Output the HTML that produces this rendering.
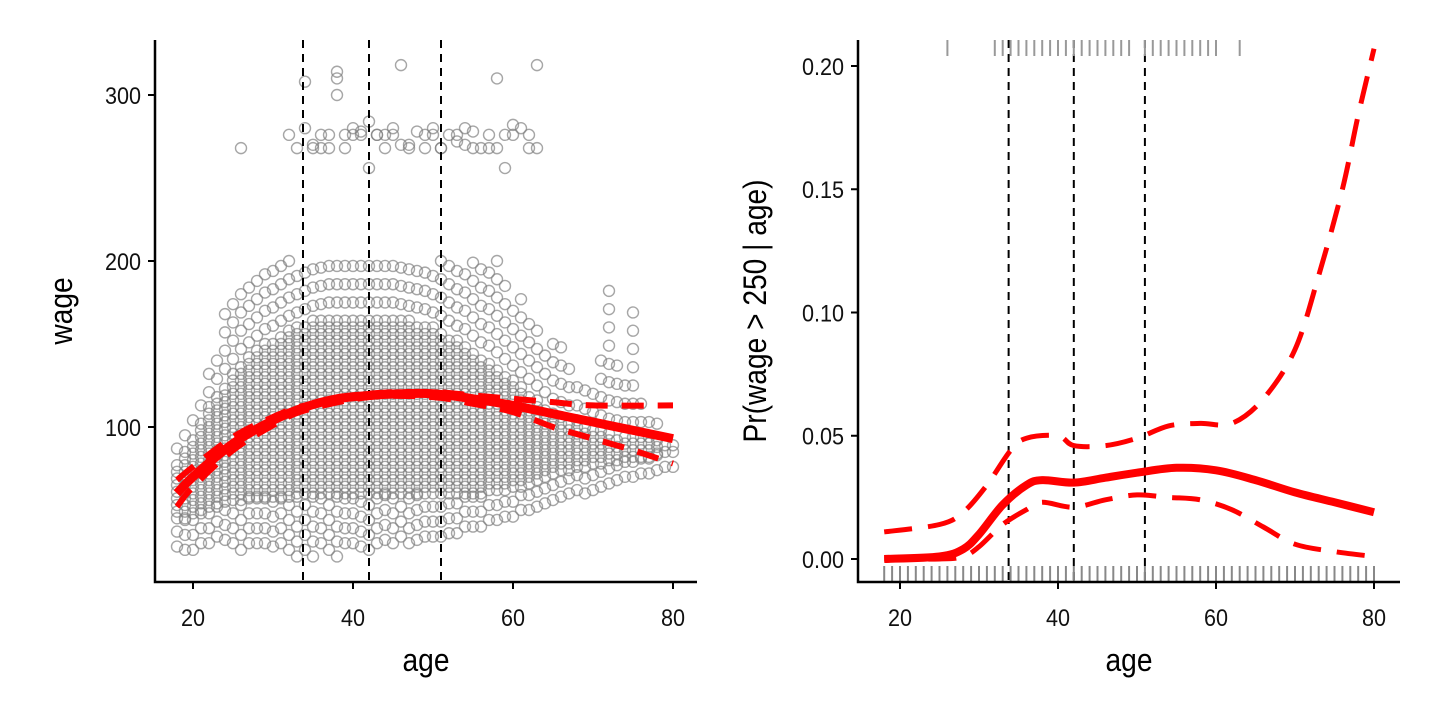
<!DOCTYPE html>
<html><head><meta charset="utf-8"><style>
html,body{margin:0;padding:0;background:#fff;}
svg{display:block;font-family:"Liberation Sans Narrow","Liberation Sans",sans-serif;}
</style></head><body>
<svg id="c" width="1440" height="720"></svg>
<script>
// ---- data ----
const ages = [];for(let a=18;a<=80;a++)ages.push(a);
// dense band per age (wage lo/hi), 18..80
const bandLo=[45,45,48,50,52,54,55,56,56,58,58,58,58,58,58,60,60,60,60,60,60,60,60,60,60,60,60,60,60,60,60,60,60,60,60,60,60,60,60,62,62,62,64,64,66,68,70,72,74,74,76,76,78,78,80,80,82,82,82,82,84,85,85];
const bandHi=[78,86,95,104,112,120,126,132,138,142,146,150,152,155,158,160,162,164,165,166,166,166,166,166,166,166,166,166,165,164,163,162,160,158,155,152,150,146,142,140,136,132,128,124,120,116,112,108,106,104,104,102,100,98,96,95,94,94,94,94,93,92,92];
// sparse outer band per age
const outLo=[28,26,26,30,30,34,32,30,26,30,30,30,28,30,26,22,26,22,30,26,22,30,30,28,26,30,32,30,34,30,32,34,34,34,36,36,40,40,40,44,44,46,46,50,50,52,54,56,58,60,62,60,62,64,66,68,70,70,72,72,74,76,76];
const outHi=[90,100,110,120,140,150,170,175,180,185,195,200,200,200,200,200,200,200,200,200,200,200,200,200,200,200,200,200,200,200,200,200,200,200,200,200,200,200,200,200,200,190,175,180,170,160,150,150,150,140,130,130,130,150,190,140,130,178,120,110,110,100,100];
const highAge=[32,33,34,35,36,37,38,38,39,40,41,42,43,44,45,46,47,48,49,50,51,52,53,54,55,56,57,58,59,60,61,62,63,34,38,43,46,26,58,63,51,42,35,37,39,41,44,47,49,53,55,57,60,36,40,45,50,54,59,62];
const highWage=[276,268,280,270,268,276,310,314,276,280,278,284,276,268,280,318,270,278,276,280,268,276,272,270,278,268,276,268,256,282,280,268,318,308,300,276,270,268,310,268,268,256,268,268,268,276,276,268,268,276,268,268,276,276,276,276,276,280,276,276];
const fitL=[[18,60],[20,70],[25,90],[30,104],[34,112],[38,117],[42,119],[46,120],[50,120],[55,117],[60,113],[65,108],[70,103],[75,98],[80,93]];
const upL=[[18,68],[20,76],[25,94],[30,106],[34,113],[42,120],[50,121],[55,119],[60,117],[65,115],[70,113],[80,113]];
const loL=[[18,52],[20,64],[25,86],[30,101],[34,110],[42,118],[50,118],[55,114],[60,109],[65,100],[70,93],[75,86],[80,78]];
const fitR=[[18,0],[25,0.001],[28,0.004],[30,0.010],[33,0.022],[36,0.030],[38,0.032],[42,0.031],[46,0.033],[50,0.035],[55,0.037],[60,0.036],[65,0.032],[70,0.027],[75,0.023],[80,0.019]];
const upR=[[18,0.011],[25,0.014],[28,0.019],[31,0.030],[34,0.044],[36,0.049],[40,0.050],[42,0.046],[46,0.046],[50,0.049],[54,0.054],[58,0.055],[62,0.055],[66,0.065],[70,0.085],[73,0.115],[76,0.150],[78,0.180],[80,0.207]];
const loR=[[18,0],[25,0],[28,0.001],[30,0.005],[33,0.014],[36,0.020],[38,0.023],[42,0.021],[46,0.024],[50,0.026],[54,0.025],[58,0.024],[62,0.020],[66,0.013],[70,0.006],[75,0.003],[80,0.001]];
const knots=[33.75,42,51];
const xTicks=[20,40,60,80];
const yTicksL=[100,200,300];
const yTicksR=[0,0.05,0.10,0.15,0.20];
const yTickLabR=["0.00","0.05","0.10","0.15","0.20"];
const topRug=[26,32,33,34,35,36,37,38,39,40,41,42,43,44,45,46,47,48,49,51,52,53,54,55,56,57,58,59,60,63];
// ---- scales ----
const xL=a=>193+(a-20)*8, yL=w=>427-(w-100)*1.66;
const xR=a=>900+(a-20)*7.9, yR=p=>559-p*2465;
const S=document.getElementById('c'),NS='http://www.w3.org/2000/svg';
function el(t,at,p){const e=document.createElementNS(NS,t);for(const k in at)e.setAttribute(k,at[k]);(p||S).appendChild(e);return e;}
function path(pts,fx,fy){
 const P=pts.map(p=>[fx(p[0]),fy(p[1])]);let d='M'+P[0][0].toFixed(1)+','+P[0][1].toFixed(1);
 for(let i=0;i<P.length-1;i++){const p0=P[Math.max(0,i-1)],p1=P[i],p2=P[i+1],p3=P[Math.min(P.length-1,i+2)];
  const c1=[p1[0]+(p2[0]-p0[0])/6,p1[1]+(p2[1]-p0[1])/6],c2=[p2[0]-(p3[0]-p1[0])/6,p2[1]-(p3[1]-p1[1])/6];
  d+='C'+c1.map(v=>v.toFixed(1))+' '+c2.map(v=>v.toFixed(1))+' '+p2.map(v=>v.toFixed(1));}
 return d;}
// left scatter
const gs=el('g',{});


const cs={fill:'none',stroke:'#808080','stroke-opacity':0.7,'stroke-width':1.4,r:5.5};
ages.forEach((a,i)=>{
 for(let w=bandLo[i];w<=bandHi[i];w+=4){el('circle',Object.assign({cx:xL(a),cy:yL(w)},cs),gs);}
 for(let w=outLo[i];w<bandLo[i];w+=9){el('circle',Object.assign({cx:xL(a),cy:yL(w)},cs),gs);}
 for(let w=bandHi[i]+9;w<=outHi[i];w+=11){el('circle',Object.assign({cx:xL(a),cy:yL(w)},cs),gs);}
});
highAge.forEach((a,i)=>{el('circle',Object.assign({cx:xL(a),cy:yL(highWage[i])},cs),gs);});
// knots
knots.forEach(k=>{const l=el('line',{x1:xL(k),x2:xL(k),y1:40,y2:582,stroke:'#000','stroke-width':2,'stroke-dasharray':'8,6'});
const r=el('line',{x1:xR(k),x2:xR(k),y1:40,y2:582,stroke:'#000','stroke-width':2,'stroke-dasharray':'8,6'});});
// left fits
let p=el('path',{d:path(upL,xL,yL),fill:'none',stroke:'#f00','stroke-width':6,'stroke-dasharray':'22,14'});
p=el('path',{d:path(loL,xL,yL),fill:'none',stroke:'#f00','stroke-width':6,'stroke-dasharray':'22,14'});
p=el('path',{d:path(fitL,xL,yL),fill:'none',stroke:'#f00','stroke-width':9});
// right rugs
ages.forEach(a=>{const l=el('line',{x1:xR(a),x2:xR(a),y1:566,y2:582,stroke:'#888','stroke-width':2});});
topRug.forEach(a=>{const l=el('line',{x1:xR(a),x2:xR(a),y1:40,y2:56,stroke:'#999','stroke-width':2});});
// right fits
p=el('path',{d:path(upR,xR,yR),fill:'none',stroke:'#f00','stroke-width':5,'stroke-dasharray':'28,16'});
p=el('path',{d:path(loR,xR,yR),fill:'none',stroke:'#f00','stroke-width':5,'stroke-dasharray':'28,16'});
p=el('path',{d:path(fitR,xR,yR),fill:'none',stroke:'#f00','stroke-width':8});
// axes
function axes(x0,x1,xs,yTicks,ys,yLabs,xt,yt,ytx){
 let a=el('path',{d:`M${x0},40V582H${x1}`,fill:'none',stroke:'#000','stroke-width':2.5});
 xTicks.forEach(t=>{el('line',{x1:xs(t),x2:xs(t),y1:582,y2:589,stroke:'#000','stroke-width':2});
  const tx=el('text',{x:xs(t),y:626,'text-anchor':'middle','font-size':24,fill:'#111',transform:`translate(${xs(t)*0.1},0) scale(0.9,1)`});tx.textContent=t;});
 yTicks.forEach((t,i)=>{el('line',{x1:x0-7,x2:x0,y1:ys(t),y2:ys(t),stroke:'#000','stroke-width':2});
  const tx=el('text',{x:(x0-14)/0.9,y:ys(t)+9,'text-anchor':'end','font-size':24,fill:'#111',transform:'scale(0.9,1)'});tx.textContent=yLabs[i];});
 let t=el('text',{x:0,y:0,'text-anchor':'middle','font-size':32,fill:'#000',transform:`translate(${(x0+x1)/2},671) scale(0.88,1)`});t.textContent=xt;
 t=el('text',{x:0,y:0,'text-anchor':'middle','font-size':32,fill:'#000',transform:`translate(${ytx},311) rotate(-90) scale(0.88,1)`});t.textContent=yt;
}
axes(155,697,xL,yTicksL,yL,yTicksL,'age','wage',72);
axes(858,1400,xR,yTicksR,yR,yTickLabR,'age','Pr(wage > 250 | age)',766);
</script>
</body></html>
